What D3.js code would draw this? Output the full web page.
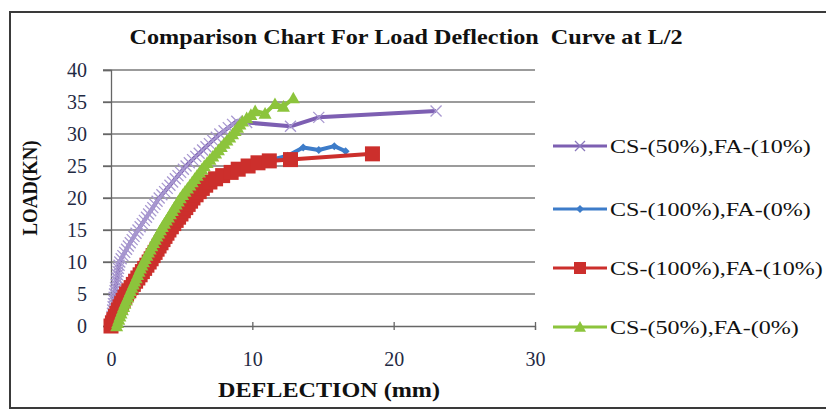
<!DOCTYPE html>
<html>
<head>
<meta charset="utf-8">
<script src="https://cdn.jsdelivr.net/npm/d3@7/dist/d3.min.js"></script>
<style>
    body { margin: 0; background: #fff; }
    text { font-family: 'Liberation Serif', 'Times New Roman', serif; }
</style>
</head>
<body>
<svg id="chart" width="826" height="415"></svg>
<script>
// values: deflection (mm) and load (kN)
const seriesNames = ['CS-(50%),FA-(10%)', 'CS-(100%),FA-(0%)', 'CS-(100%),FA-(10%)', 'CS-(50%),FA-(0%)'];
const xTicks = [0, 10, 20, 30];
const yTicks = [0, 5, 10, 15, 20, 25, 30, 35, 40];

const purpleDefl = [0.00, 0.02, 0.05, 0.07, 0.10, 0.12, 0.15, 0.17, 0.20, 0.22, 0.25, 0.29, 0.32, 0.36, 0.40, 0.43, 0.46, 0.50, 0.53, 0.57,
    0.62, 0.72, 0.84, 0.97, 1.10, 1.23, 1.36, 1.50, 1.63, 1.77, 1.91, 2.06, 2.21, 2.36, 2.51, 2.66, 2.81, 2.96, 3.11, 3.26,
    3.41, 3.60, 3.79, 3.98, 4.17, 4.36, 4.55, 4.74, 4.93, 5.12, 5.31, 5.54, 5.77, 6.00, 6.24, 6.48, 6.72, 6.96, 7.20, 7.45,
    7.70, 8.00, 8.30, 8.60, 8.90, 9.60, 12.70, 14.70, 23.00];
const purpleLoad = [0, 0.5, 1, 1.5, 2, 2.5, 3, 3.5, 4, 4.5, 5, 5.5, 6, 6.5, 7, 7.5, 8, 8.5, 9, 9.5,
    10, 10.5, 11, 11.5, 12, 12.5, 13, 13.5, 14, 14.5, 15, 15.5, 16, 16.5, 17, 17.5, 18, 18.5, 19, 19.5,
    20, 20.5, 21, 21.5, 22, 22.5, 23, 23.5, 24, 24.5, 25, 25.5, 26, 26.5, 27, 27.5, 28, 28.5, 29, 29.5,
    30, 30.5, 31, 31.5, 32, 31.8, 31.2, 32.6, 33.6];

const blueDefl = [0.00, 0.12, 0.33, 0.55, 0.78, 1.00, 1.32, 1.64, 1.96, 2.28, 2.60, 2.88, 3.16, 3.44, 3.72, 4.00, 4.34, 4.68, 5.02, 5.36,
    5.70, 6.14, 6.60, 7.30, 8.40, 9.60, 12.50, 13.60, 14.70, 15.80, 16.60];
const blueLoad = [0, 1, 2, 3, 4, 5, 6, 7, 8, 9, 10, 11, 12, 13, 14, 15, 16, 17, 18, 19,
    20, 21, 22, 23, 24, 25, 26.6, 27.9, 27.5, 28.1, 27.3];

const redDefl = [0.00, 0.10, 0.20, 0.31, 0.42, 0.53, 0.64, 0.75, 0.86, 0.98, 1.10, 1.26, 1.42, 1.58, 1.74, 1.90, 2.06, 2.22, 2.38, 2.54,
    2.70, 2.84, 2.98, 3.12, 3.26, 3.40, 3.54, 3.68, 3.82, 3.96, 4.10, 4.27, 4.44, 4.61, 4.78, 4.95, 5.12, 5.29, 5.46, 5.63,
    5.80, 6.02, 6.24, 6.46, 6.70, 7.00, 7.40, 7.90, 8.50, 9.00, 9.70, 10.40, 11.20, 12.70, 18.50];
const redLoad = [0, 0.5, 1, 1.5, 2, 2.5, 3, 3.5, 4, 4.5, 5, 5.5, 6, 6.5, 7, 7.5, 8, 8.5, 9, 9.5,
    10, 10.5, 11, 11.5, 12, 12.5, 13, 13.5, 14, 14.5, 15, 15.5, 16, 16.5, 17, 17.5, 18, 18.5, 19, 19.5,
    20, 20.5, 21, 21.5, 22, 22.5, 23, 23.5, 24, 24.5, 25.0, 25.5, 25.8, 26.0, 26.9];

const greenDefl = [0.40, 0.47, 0.55, 0.63, 0.71, 0.80, 0.89, 0.98, 1.08, 1.18, 1.28, 1.38, 1.48, 1.58, 1.68, 1.78, 1.88, 1.98, 2.08, 2.19,
    2.30, 2.42, 2.54, 2.65, 2.77, 2.89, 3.01, 3.13, 3.25, 3.38, 3.50, 3.64, 3.78, 3.92, 4.06, 4.20, 4.34, 4.48, 4.62, 4.76,
    4.90, 5.07, 5.24, 5.41, 5.58, 5.75, 5.92, 6.09, 6.26, 6.43, 6.60, 6.80, 7.00, 7.20, 7.40, 7.60, 7.80, 8.00, 8.20, 8.40,
    8.60, 8.78, 8.95, 9.12, 9.30, 9.60, 9.90, 10.20, 10.90, 11.60, 12.20, 12.90];
const greenLoad = [0, 0.5, 1, 1.5, 2, 2.5, 3, 3.5, 4, 4.5, 5, 5.5, 6, 6.5, 7, 7.5, 8, 8.5, 9, 9.5,
    10, 10.5, 11, 11.5, 12, 12.5, 13, 13.5, 14, 14.5, 15, 15.5, 16, 16.5, 17, 17.5, 18, 18.5, 19, 19.5,
    20, 20.5, 21, 21.5, 22, 22.5, 23, 23.5, 24, 24.5, 25, 25.5, 26, 26.5, 27, 27.5, 28, 28.5, 29, 29.5,
    30, 30.5, 31, 31.5, 32, 32.5, 33, 33.6, 33.2, 34.7, 34.3, 35.6];

const colors = ['#7d5fb2', '#3d7cc9', '#cc2f2c', '#8cc43c'];
const markerColors = ['#a898d0', '#3d7cc9', '#cc2f2c', '#8cc43c'];
const markers = ['cross', 'diamond', 'square', 'triangle'];

const series = [
    { name: seriesNames[0], x: purpleDefl, y: purpleLoad },
    { name: seriesNames[1], x: blueDefl, y: blueLoad },
    { name: seriesNames[2], x: redDefl, y: redLoad },
    { name: seriesNames[3], x: greenDefl, y: greenLoad },
];

// the source picture is stretched sideways, so text gets widened too
const stretch = 1.235;

const svg = d3.select('#chart');

// outer frame
svg.append('rect')
    .attr('x', 10).attr('y', 12)
    .attr('width', 840).attr('height', 396)
    .attr('fill', '#fff')
    .attr('stroke', '#3a3a3a')
    .attr('stroke-width', 2);

const margin = { left: 111, right: 535, top: 70, bottom: 326 };

const xScale = d3.scaleLinear().domain([0, 30]).range([margin.left, margin.right]);
const yScale = d3.scaleLinear().domain([0, 40]).range([margin.bottom, margin.top]);

// horizontal gridlines
svg.append('g')
    .selectAll('line')
    .data(yTicks.filter(d => d > 0))
    .enter()
    .append('line')
    .attr('x1', margin.left - 8)
    .attr('x2', margin.right)
    .attr('y1', d => yScale(d))
    .attr('y2', d => yScale(d))
    .attr('stroke', '#7a7a7a')
    .attr('stroke-width', 1.3);

const yAxis = d3.axisLeft(yScale).tickValues(yTicks).tickSize(8).tickPadding(16);
const gY = svg.append('g')
    .attr('transform', 'translate(' + margin.left + ',0)')
    .call(yAxis);
gY.select('.domain').attr('stroke', '#666').attr('stroke-width', 1.3);
gY.selectAll('.tick line').attr('stroke', '#666').attr('stroke-width', 1.3);
gY.selectAll('.tick text')
    .style('font-family', "'Liberation Serif', serif")
    .style('font-size', '20px')
    .attr('fill', '#1f2a44');

const xAxis = d3.axisBottom(xScale).tickValues(xTicks).tickSize(4).tickPadding(22);
const gX = svg.append('g')
    .attr('transform', 'translate(0,' + margin.bottom + ')')
    .call(xAxis);
gX.select('.domain').attr('stroke', '#666').attr('stroke-width', 1.3);
gX.selectAll('.tick line').attr('y1', -4).attr('stroke', '#666').attr('stroke-width', 1.3);
gX.selectAll('.tick text')
    .style('font-family', "'Liberation Serif', serif")
    .style('font-size', '20px')
    .attr('fill', '#1f2a44');

function drawMarker(g, type, cx, cy, size, color) {
    const h = size / 2;
    if (type === 'cross') {
        g.append('path')
            .attr('d', `M${cx - h},${cy - h}L${cx + h},${cy + h}M${cx - h},${cy + h}L${cx + h},${cy - h}`)
            .attr('stroke', color).attr('stroke-width', 1.3).attr('fill', 'none');
    } else if (type === 'diamond') {
        g.append('path')
            .attr('d', `M${cx},${cy - h}L${cx + h},${cy}L${cx},${cy + h}L${cx - h},${cy}Z`)
            .attr('fill', color);
    } else if (type === 'square') {
        g.append('rect')
            .attr('x', cx - h).attr('y', cy - h)
            .attr('width', size).attr('height', size)
            .attr('fill', color);
    } else {
        g.append('path')
            .attr('d', `M${cx},${cy - h}L${cx + h},${cy + h * 0.8}L${cx - h},${cy + h * 0.8}Z`)
            .attr('fill', color);
    }
}

const markerSizes = [11, 8, 15, 13];

const line = d3.line().x(d => xScale(d[0])).y(d => yScale(d[1]));

series.forEach((s, i) => {
    const pts = s.x.map((d, j) => [d, s.y[j]]);
    const g = svg.append('g').attr('class', 'series');
    g.append('path')
        .datum(pts)
        .attr('d', line)
        .attr('fill', 'none')
        .attr('stroke', colors[i])
        .attr('stroke-width', 4)
        .attr('stroke-linejoin', 'round');
    pts.forEach(p => drawMarker(g, markers[i], xScale(p[0]), yScale(p[1]), markerSizes[i], markerColors[i]));
});

// legend
const legendY = [146, 209, 268, 327];
series.forEach((s, i) => {
    const g = svg.append('g').attr('transform', 'translate(553,' + legendY[i] + ')');
    g.append('line')
        .attr('x1', 0).attr('x2', 54)
        .attr('stroke', colors[i]).attr('stroke-width', 3);
    drawMarker(g, markers[i], 27, 0, [10, 8, 12, 12][i], i === 0 ? '#8a78bc' : markerColors[i]);
    g.append('text')
        .attr('transform', 'translate(57,7) scale(' + stretch + ',1)')
        .style('font-size', '19.5px')
        .attr('fill', '#111')
        .text(s.name);
});

// titles
svg.append('text')
    .attr('x', 406).attr('y', 44)
    .attr('text-anchor', 'middle')
    .attr('textLength', 553)
    .attr('lengthAdjust', 'spacingAndGlyphs')
    .style('font-size', '21px')
    .style('font-weight', 'bold')
    .style('white-space', 'pre')
    .attr('fill', '#111')
    .text('Comparison Chart For Load Deflection  Curve at L/2');

svg.append('text')
    .attr('x', 329).attr('y', 397)
    .attr('text-anchor', 'middle')
    .attr('textLength', 222)
    .attr('lengthAdjust', 'spacingAndGlyphs')
    .style('font-size', '20px')
    .style('font-weight', 'bold')
    .attr('fill', '#111')
    .text('DEFLECTION (mm)');

svg.append('text')
    .attr('transform', 'translate(37,188) rotate(-90)')
    .attr('text-anchor', 'middle')
    .attr('textLength', 95)
    .attr('lengthAdjust', 'spacingAndGlyphs')
    .style('font-size', '20px')
    .style('font-weight', 'bold')
    .attr('fill', '#111')
    .text('LOAD(KN)');
</script>
</body>
</html>
